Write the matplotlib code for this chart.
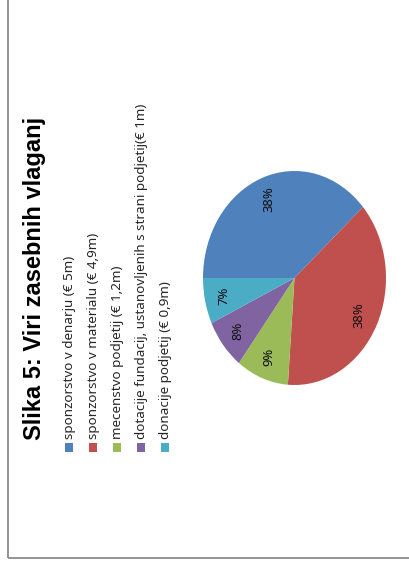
import matplotlib
matplotlib.use("Agg")
import matplotlib.pyplot as plt
from matplotlib.patches import Rectangle

# sources of private investment, in millions of euro
labels = ["sponzorstvo v denarju (€ 5m)",
          "sponzorstvo v materialu (€ 4,9m)",
          "mecenstvo podjetij (€ 1,2m)",
          "dotacije fundacij, ustanovljenih s strani podjetij(€ 1m)",
          "donacije podjetij (€ 0,9m)"]
amounts = [5.0, 4.9, 1.2, 1.0, 0.9]
colors = ["#4F81BD", "#C0504D", "#9BBB59", "#8064A2", "#4BACC6"]
title = "Slika 5: Viri zasebnih vlaganj"

W, H = 410, 563
fig = plt.figure(figsize=(W / 100, H / 100), dpi=100)
fig.patch.set_facecolor("white")

# the whole chart is turned on its side, so everything is laid out in pixels
cx, cy, rx, ry = 294.5, 278, 91.5, 107
ax = fig.add_axes([(cx - rx) / W, (H - cy - ry) / H, 2 * rx / W, 2 * ry / H])
ax.pie(amounts, colors=colors, startangle=180, counterclock=False,
       autopct=lambda p: "{:.0f}%".format(p), pctdistance=0.79,
       wedgeprops={"linewidth": 0},
       textprops={"rotation": 90, "fontsize": 9.4, "family": "Noto Sans", "color": "#111111"})
ax.set_aspect("auto")
ax.set_xlim(-1, 1)
ax.set_ylim(-1, 1)

ov = fig.add_axes([0, 0, 1, 1], facecolor="none")
ov.set_xlim(0, W)
ov.set_ylim(H, 0)
ov.axis("off")

# chart border (only left and bottom edges fall inside the picture)
ov.plot([8, 8], [0, 558], color="#8a8a8a", lw=1.3, solid_capstyle="butt")
ov.plot([8, W], [558, 558], color="#8a8a8a", lw=1.3, solid_capstyle="butt")

ov.text(35, 278.5, title, rotation=90, ha="center", va="center",
        fontsize=17, fontweight="bold", family="Liberation Sans", color="black")

# hand-built legend, one column per entry
for i, (lab, col) in enumerate(zip(labels, colors)):
    x = 69 + i * 24
    ov.add_patch(Rectangle((x - 4, 443), 8, 9, facecolor=col, edgecolor="none"))
    ov.text(x + 1, 439, lab, rotation=90, ha="center", va="bottom",
            fontsize=9.7, family="Noto Sans", color="#262626")

fig.savefig("out.png", dpi=100)
